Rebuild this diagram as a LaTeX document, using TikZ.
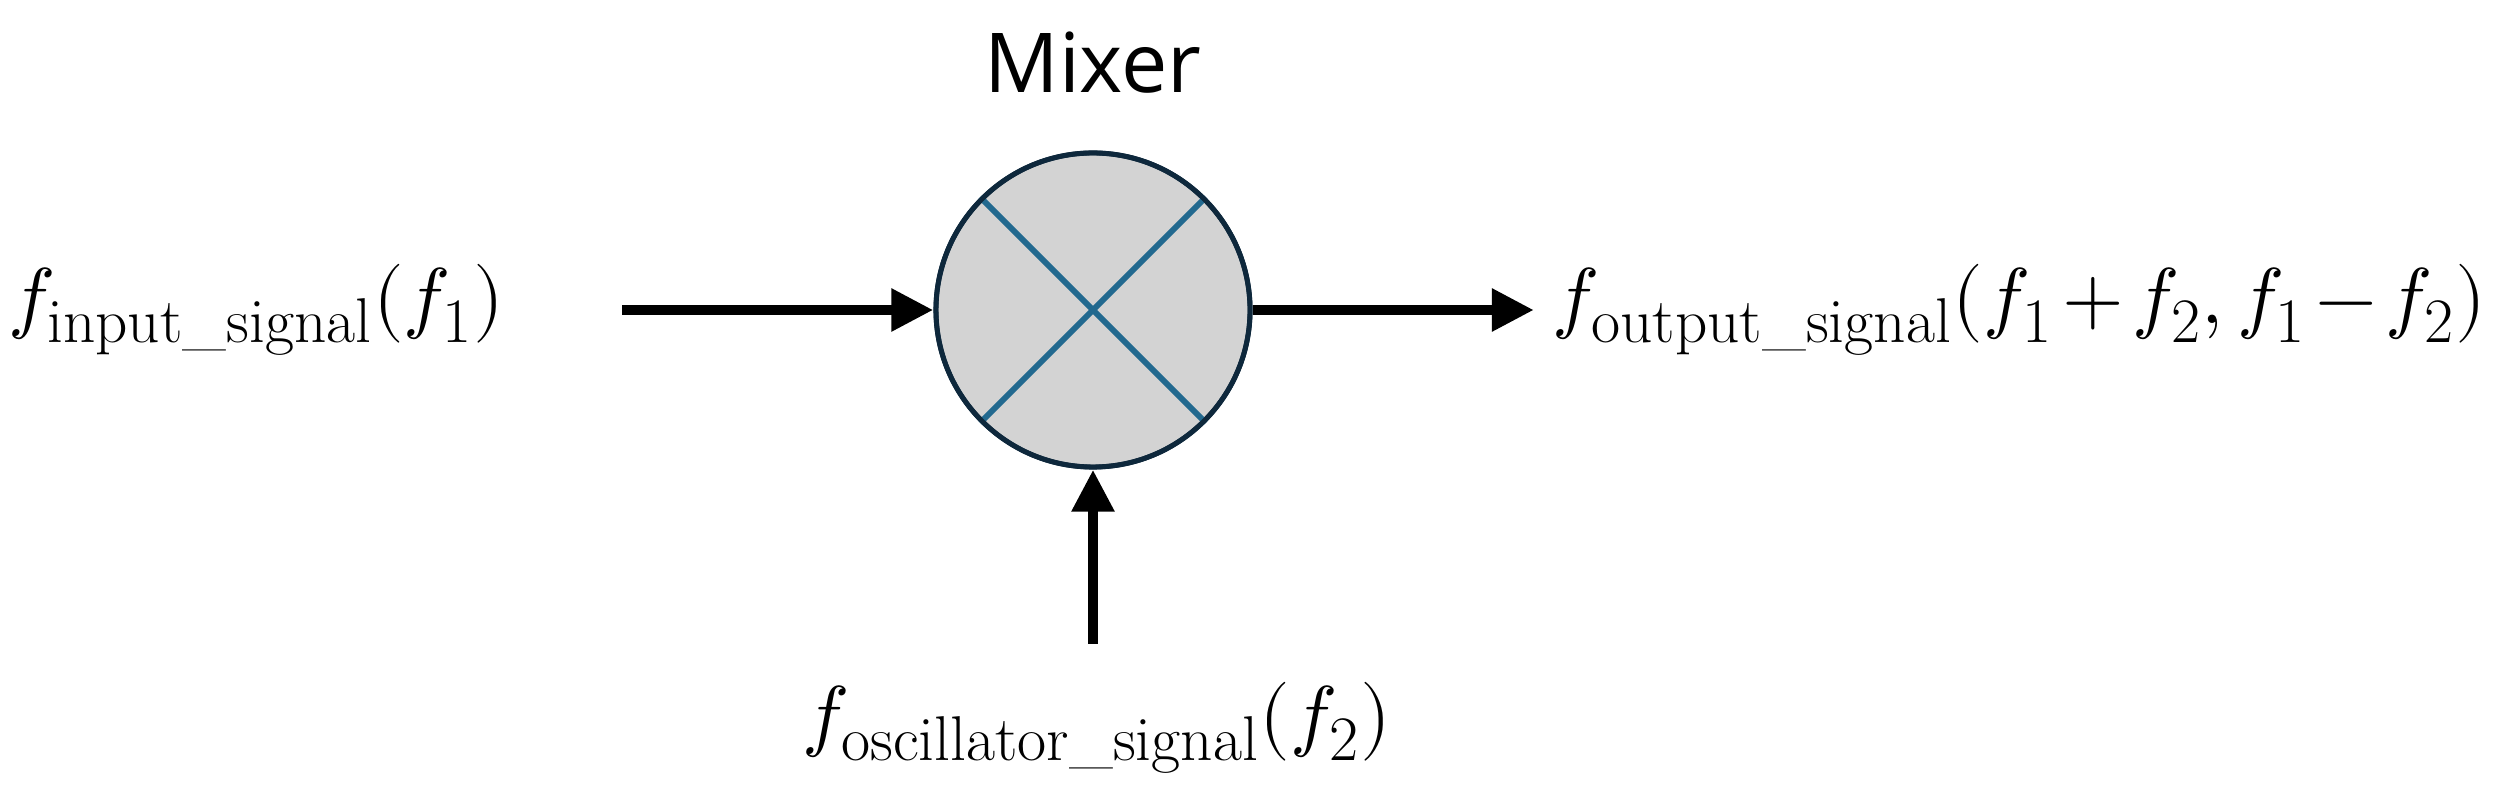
\documentclass[tikz,border=0pt]{standalone}
\usepackage{fontspec}
\usepackage{unicode-math}
\setmathfont{Latin Modern Math}
\newfontfamily\mixfont{Open Sans}
\usetikzlibrary{arrows.meta}
\definecolor{mixfill}{RGB}{211,211,211}
\definecolor{mixborder}{RGB}{14,40,60}
\definecolor{xcol}{RGB}{34,105,143}
\newcommand{\sig}[1]{\hbox{\fontsize{18}{18}\selectfont #1}}
\tikzset{
  mixerbox/.style={circle, fill=mixfill, draw=mixborder, line width=1.4pt, minimum size=3.14cm, inner sep=0pt},
  xline/.style={draw=xcol, line width=1.7pt},
  sigarrow/.style={line width=3.1pt, -{Triangle[length=12pt,width=11.5pt]}},
  siglabel/.style={inner sep=0pt, font=\fontsize{22.5}{27}\selectfont},
  title/.style={inner sep=0pt, font=\mixfont\fontsize{23.5}{28}\selectfont}
}
\begin{document}
\begin{tikzpicture}[x=0.01cm, y=-0.01cm]
\useasboundingbox (0,0) rectangle (2515,807);
\node[title, anchor=base] (title) at (1093,93) {Mixer};
\node[mixerbox] (mixer) at (1093,310) {};
\draw[xline] (mixer.135) -- (mixer.-45);
\draw[xline] (mixer.45) -- (mixer.-135);
\draw[mixborder, line width=1.4pt] (mixer.center) circle[radius=157];
\node[siglabel, anchor=west] (in) at (8,310) {$\medmuskip=2mu f_{\sig{input\_signal}}(f_{\sig{1}})$};
\node[siglabel, anchor=west] (out) at (1552,310) {$\medmuskip=2mu f_{\sig{output\_signal}}(f_{\sig{1}}+f_{\sig{2}}, f_{\sig{1}}-f_{\sig{2}})$};
\node[siglabel, anchor=west] (osc) at (802,728) {$\medmuskip=2mu f_{\sig{oscillator\_signal}}(f_{\sig{2}})$};
\coordinate (inend) at (622,310);
\coordinate (outend) at (1534,310);
\coordinate (oscend) at (1093,644);
\draw[sigarrow] (inend) -- (mixer.west);
\draw[sigarrow] (mixer.east) -- (outend);
\draw[sigarrow] (oscend) -- (mixer.south);
\end{tikzpicture}
\end{document}
